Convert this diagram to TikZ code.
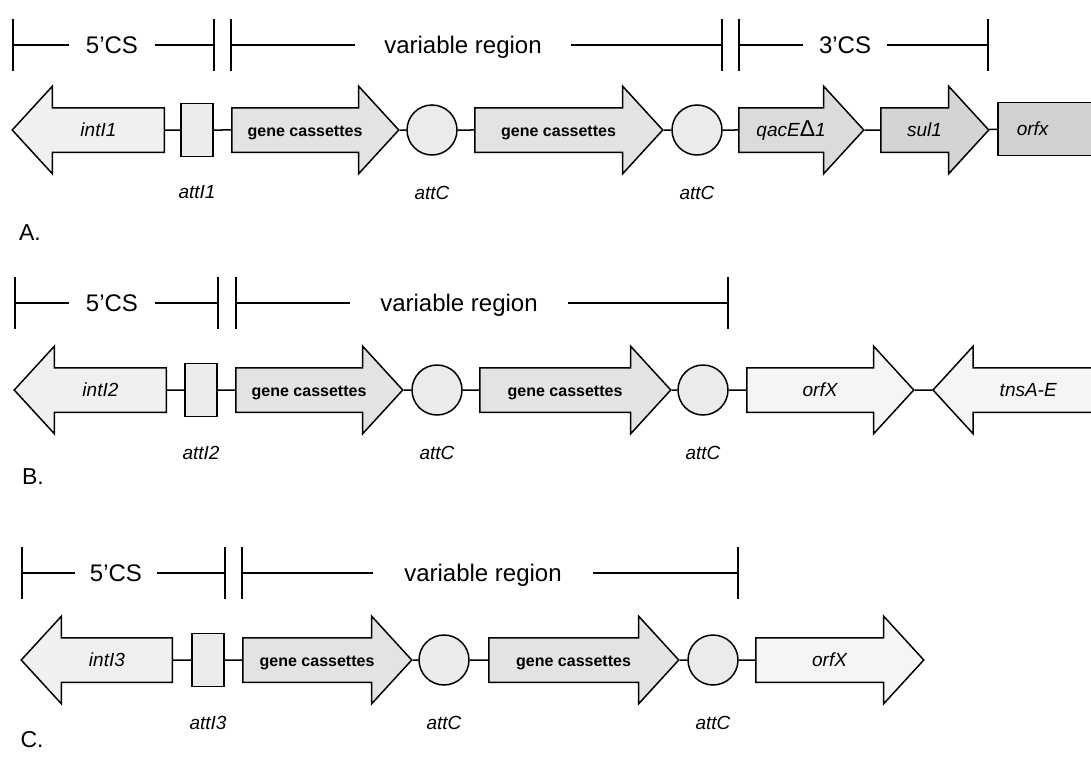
\documentclass[tikz,border=0pt]{standalone}
\usepackage{fontspec}
\setmainfont{Liberation Sans}
\usetikzlibrary{shapes.arrows,positioning}
\definecolor{intfill}{gray}{0.94}
\definecolor{boxfill}{gray}{0.92}
\definecolor{cassfill}{gray}{0.89}
\definecolor{ringfill}{gray}{0.92}
\definecolor{qacfill}{gray}{0.86}
\definecolor{sulfill}{gray}{0.83}
\definecolor{orffill}{gray}{0.82}
\definecolor{litefill}{gray}{0.96}
\newcommand{\brtick}[1]{\draw[link] ([yshift=26pt]#1) -- ([yshift=-26pt]#1);}
\tikzset{
  gene/.style={single arrow, draw=black, line width=1.5pt, fill=#1,
               single arrow tip angle=95, single arrow head extend=21.5pt,
               text height=15pt, text depth=2pt, inner ysep=13pt, inner xsep=2pt,
               font=\fontsize{19}{19}\selectfont\itshape},
  gene/.default=litefill,
  rgene/.style={gene=#1, shape border rotate=180},
  cass/.style={gene=cassfill, font=\fontsize{16}{16}\selectfont\bfseries},
  attbox/.style={rectangle, draw, line width=1.5pt, fill=boxfill,
                 minimum width=32pt, minimum height=53pt, inner sep=0pt},
  orfbox/.style={rectangle, draw, line width=1.5pt, fill=orffill, text width=70pt,
                 align=left, inner xsep=19pt, minimum height=53pt,
                 font=\fontsize{19}{19}\selectfont\itshape},
  ring/.style={circle, draw, line width=1.5pt, fill=ringfill, minimum size=50pt, inner sep=0pt},
  site/.style={font=\fontsize{19}{19}\selectfont\itshape},
  span/.style={font=\fontsize{24}{24}\selectfont, inner sep=0pt, text height=17pt,
               text depth=0pt, minimum width=#1},
  row/.style={font=\fontsize{23}{23}\selectfont},
  link/.style={line width=1.5pt},
}

\begin{document}
\begin{tikzpicture}[x=1pt, y=-1pt, node distance=27pt]
  \path[use as bounding box, fill=white] (0,0) rectangle (1091,760);

  % A
  \coordinate (a0) at (13,45);  \coordinate (a1) at (214,45); \coordinate (a2) at (231,45);
  \coordinate (a3) at (722,45); \coordinate (a4) at (739,45); \coordinate (a5) at (988,45);
  \node[span=85pt] (csA5) at (112,45) {5'CS};
  \node[span=216pt] (varA) at (463,45) {variable region};
  \node[span=84pt] (csA3) at (845,45) {3'CS};
  \draw[link] (a0) -- (csA5) -- (a1) (a2) -- (varA) -- (a3) (a4) -- (csA3) -- (a5);
  \foreach \t in {a0,a1,a2,a3,a4,a5} {\brtick{\t}}

  \node[rgene=intfill, anchor=tail, minimum height=152pt] (intA) at (165,130) {intI1};
  \node[attbox] (attA) at (197,130) {};
  \node[cass, anchor=tail, minimum height=167pt] (gcA1) at (231,130) {gene cassettes};
  \node[ring] (cA1) at (432,130) {};
  \node[cass, anchor=tail, minimum height=188pt] (gcA2) at (474,130) {gene cassettes};
  \node[ring] (cA2) at (697,130) {};
  \node[gene=qacfill, anchor=tail, minimum height=125pt] (qacA) at (738,130) {qacE{\upshape\fontsize{23}{23}\selectfont Δ}1};
  \node[gene=sulfill, anchor=tail, minimum height=108pt] (sulA) at (880,130) {sul1};
  \node[orfbox, anchor=west] (orfA) at (997,129) {orfx};
  \draw[link] (intA) -- (attA) -- (gcA1) -- (cA1) -- (gcA2) -- (cA2) -- (qacA) -- (sulA) -- (orfA);
  \node[site, below=25pt of attA] (lattA) {attI1};
  \node[site, below=of cA1] (lcA1) {attC};
  \node[site, below=of cA2] (lcA2) {attC};
  \node[row] (rowA) at (30,233) {A.};

  % B
  \coordinate (b0) at (15,303);  \coordinate (b1) at (218,303); \coordinate (b2) at (236,303);
  \coordinate (b3) at (728,303);
  \node[span=85pt] (csB5) at (112,303) {5'CS};
  \node[span=218pt] (varB) at (459,303) {variable region};
  \draw[link] (b0) -- (csB5) -- (b1) (b2) -- (varB) -- (b3);
  \foreach \t in {b0,b1,b2,b3} {\brtick{\t}}

  \node[rgene=intfill, anchor=tail, minimum height=152pt] (intB) at (167,390) {intI2};
  \node[attbox] (attB) at (201,390) {};
  \node[cass, anchor=tail, minimum height=167pt] (gcB1) at (235,390) {gene cassettes};
  \node[ring] (cB1) at (437,390) {};
  \node[cass, anchor=tail, minimum height=191pt] (gcB2) at (479,390) {gene cassettes};
  \node[ring] (cB2) at (703,390) {};
  \node[gene, anchor=tail, minimum height=167pt] (orfB) at (746,390) {orfX};
  \node[rgene=litefill, anchor=tip, minimum height=170pt] (tnsB) at (932,390) {tnsA-E};
  \draw[link] (intB) -- (attB) -- (gcB1) -- (cB1) -- (gcB2) -- (cB2) -- (orfB) -- (tnsB);
  \node[site, below=25pt of attB] (lattB) {attI2};
  \node[site, below=of cB1] (lcB1) {attC};
  \node[site, below=of cB2] (lcB2) {attC};
  \node[row] (rowB) at (33,477) {B.};

  % C
  \coordinate (c0) at (22,573);  \coordinate (c1) at (225,573); \coordinate (c2) at (242,573);
  \coordinate (c3) at (738,573);
  \node[span=82pt] (csC5) at (116,573) {5'CS};
  \node[span=220pt] (varC) at (483,573) {variable region};
  \draw[link] (c0) -- (csC5) -- (c1) (c2) -- (varC) -- (c3);
  \foreach \t in {c0,c1,c2,c3} {\brtick{\t}}

  \node[rgene=intfill, anchor=tail, minimum height=151pt] (intC) at (173,660) {intI3};
  \node[attbox] (attC) at (208,660) {};
  \node[cass, anchor=tail, minimum height=169pt] (gcC1) at (242,660) {gene cassettes};
  \node[ring] (cC1) at (444,660) {};
  \node[cass, anchor=tail, minimum height=190pt] (gcC2) at (488,660) {gene cassettes};
  \node[ring] (cC2) at (713,660) {};
  \node[gene, anchor=tail, minimum height=168pt] (orfC) at (755,660) {orfX};
  \draw[link] (intC) -- (attC) -- (gcC1) -- (cC1) -- (gcC2) -- (cC2) -- (orfC);
  \node[site, below=25pt of attC] (lattC) {attI3};
  \node[site, below=of cC1] (lcC1) {attC};
  \node[site, below=of cC2] (lcC2) {attC};
  \node[row] (rowC) at (32,740) {C.};
\end{tikzpicture}
\end{document}
